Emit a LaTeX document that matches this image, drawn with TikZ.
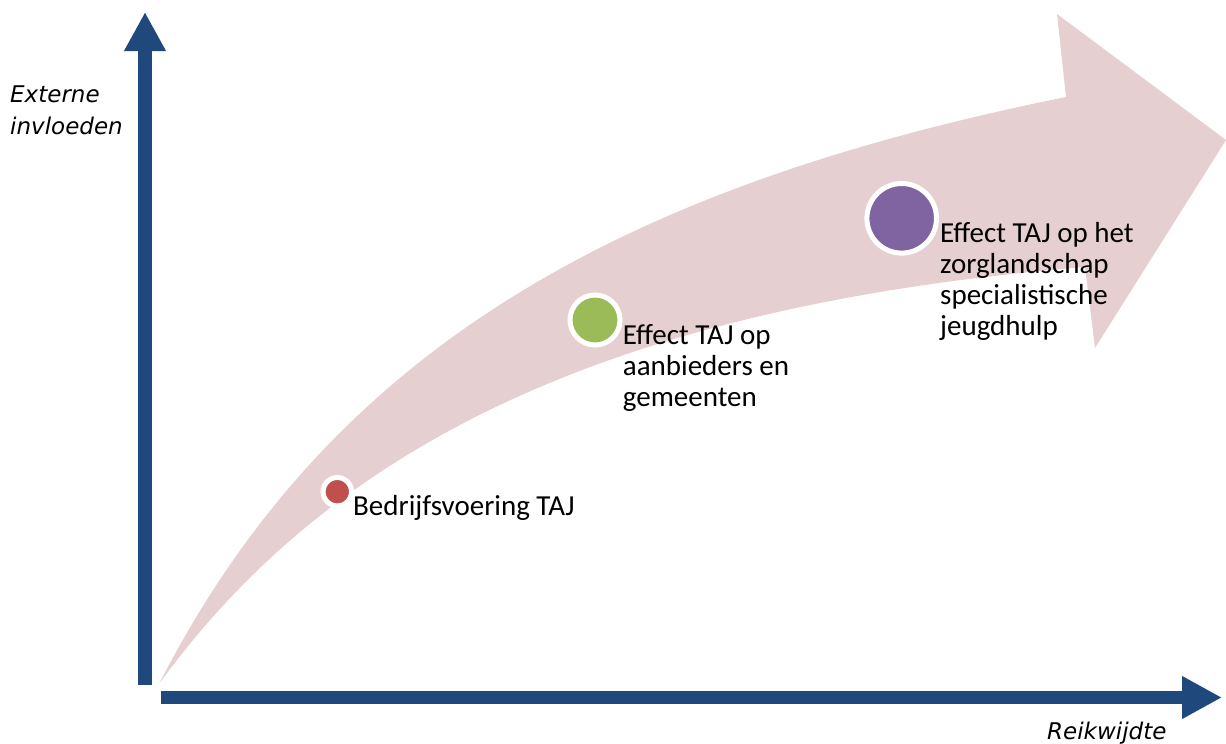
\documentclass[tikz,border=0pt]{standalone}
\usepackage{fontspec}
\setmainfont{Carlito}
\newfontfamily\axisfont{DejaVu Sans}
\usetikzlibrary{positioning,arrows.meta}

\definecolor{axisblue}{RGB}{31,73,125}
\definecolor{bandpink}{RGB}{230,207,208}
\definecolor{tajred}{RGB}{192,80,77}
\definecolor{tajgreen}{RGB}{155,187,89}
\definecolor{tajpurple}{RGB}{128,100,162}

\tikzset{
  axis/.style={draw=axisblue, line width=14pt},
  dot/.style={circle, draw=white, line width=5pt, inner sep=0pt},
  lbl/.style={align=left, inner sep=0pt, font=\fontsize{29}{31}\selectfont},
  axlbl/.style={align=left, inner sep=0pt, font=\axisfont\itshape\fontsize{23}{32}\selectfont}
}

\begin{document}
\begin{tikzpicture}[x=1pt,y=-1pt,on grid]
   \useasboundingbox (0,0) rectangle (1226,744);

   % the curved band
   \fill[bandpink] (159,684) .. controls (332,346) and (625,186) .. (1066,97)
      -- (1057,14) -- (1226,140) -- (1095,348) -- (1085,267)
      .. controls (620,305) and (335,441) .. (159,684) -- cycle;

   % axes
   \coordinate (ybot) at (145,685);
   \coordinate (ytop) at (145,12);
   \coordinate (xleft) at (161,697.5);
   \coordinate (xright) at (1222,697.5);
   \draw[axis, -{Triangle[length=39pt,width=39pt]}] (ybot) -- (ytop);
   \draw[axis, line width=13pt, -{Triangle[length=40pt,width=40pt]}] (xleft) -- (xright);

   % base anchor = last line
   \node[axlbl, anchor=base west] (extern) at (10,134) {Externe\\invloeden};
   \node[axlbl, anchor=base west] (reik) at (1047,739) {Reikwijdte};

   % steps
   \node[dot, fill=tajred, minimum size=28.4pt] (bedrijf) at (337.3,491.7) {};
   \node[dot, fill=tajgreen, minimum size=50pt] (aanbied) at (595,320) {};
   \node[dot, fill=tajpurple, minimum size=69.6pt] (zorg) at (901.7,218.3) {};

   \node[lbl, below right=23.3pt and 15.7pt of bedrijf, anchor=base west] (bedrijf-t) {Bedrijfsvoering TAJ};
   \node[lbl, below right=86pt and 27.7pt of aanbied, anchor=base west] (aanbied-t) {Effect TAJ op\\aanbieders en\\gemeenten};
   \node[lbl, below right=117pt and 38.3pt of zorg, anchor=base west] (zorg-t) {Effect TAJ op het\\zorglandschap\\specialistische\\jeugdhulp};
\end{tikzpicture}
\end{document}
